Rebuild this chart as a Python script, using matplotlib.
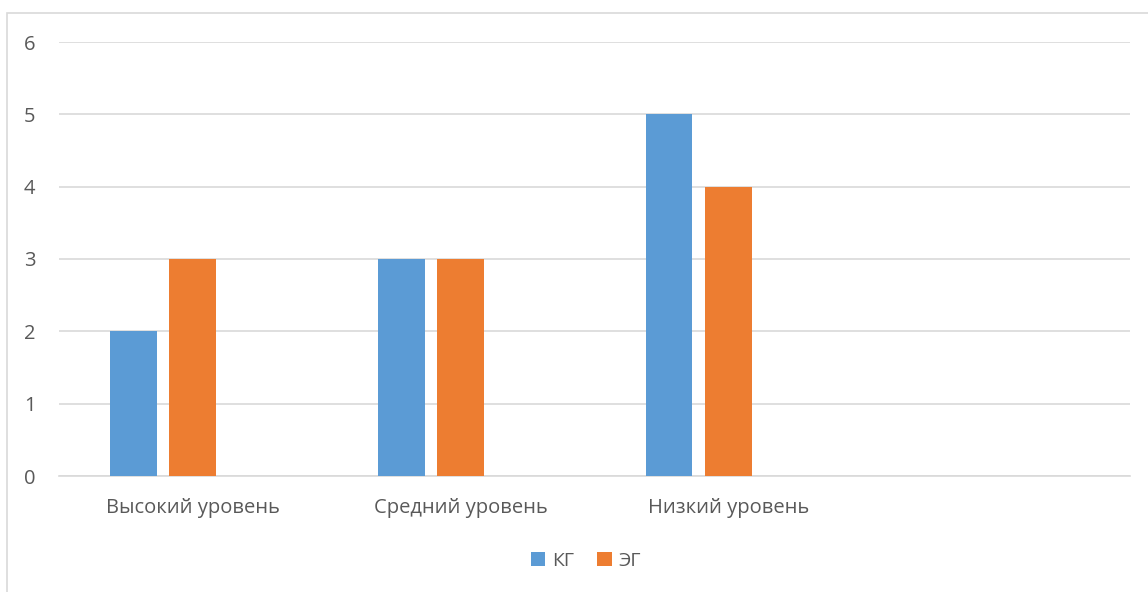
import matplotlib.pyplot as plt
import numpy as np
from matplotlib.patches import Rectangle

plt.rcParams['font.family'] = ['Open Sans', 'DejaVu Sans']

categories = ['Высокий уровень', 'Средний уровень', 'Низкий уровень', '']
kg = [2, 3, 5]
eg = [3, 3, 4]
series_names = ['КГ', 'ЭГ']
colors = ['#5B9BD5', '#ED7D31']

fig = plt.figure(figsize=(11.48, 5.92), dpi=100)
ax = fig.add_axes([59/1148, 1 - 476/592, (1130 - 59)/1148, (476 - 42)/592])

x = np.arange(len(categories))
width = 0.175
step = 0.222
ax.bar(x[:3] - step, kg, width, color=colors[0], label=series_names[0], zorder=3)
ax.bar(x[:3], eg, width, color=colors[1], label=series_names[1], zorder=3)

ax.set_xlim(-0.5, 3.5)
ax.set_ylim(0, 6)
ax.set_yticks(range(0, 7))
ax.set_xticks(x)
ax.set_xticklabels(categories)
ax.yaxis.grid(True, color='#d9d9d9', linewidth=1.2, zorder=0)
for s in ax.spines.values():
    s.set_visible(False)
ax.spines['bottom'].set_visible(True)
ax.spines['bottom'].set_color('#d9d9d9')
ax.spines['bottom'].set_linewidth(1.2)
ax.tick_params(axis='both', length=0, colors='#595959', labelsize=14.5)
ax.tick_params(axis='y', pad=17)
ax.tick_params(axis='x', pad=16)

# рамка диаграммы
fig.patches.append(Rectangle((7/1148, -0.1), 1.1, 1 - 13/592 + 0.1, transform=fig.transFigure,
                             fill=False, edgecolor='#d9d9d9', linewidth=1.2))

leg = fig.legend(loc='center', bbox_to_anchor=(586/1148, 1 - 561/592), ncol=2, frameon=False,
                 fontsize=14, handlelength=0.75, handleheight=0.75, handletextpad=0.35,
                 columnspacing=1.2)
for t in leg.get_texts():
    t.set_color('#595959')

plt.savefig('out.png', dpi=100)
